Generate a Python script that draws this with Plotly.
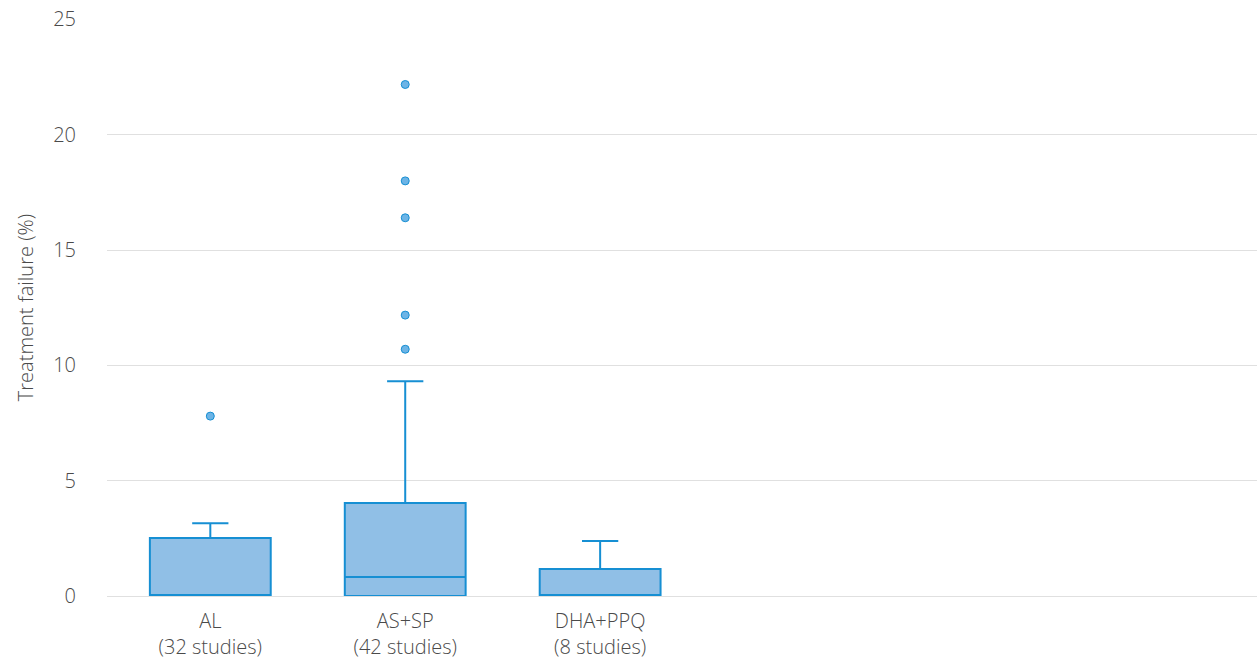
import plotly.graph_objects as go

# treatment regimens and number of studies
regimens = ["AL", "AS+SP", "DHA+PPQ"]
studies = [32, 42, 8]

# box statistics (treatment failure, %)
q1 = [0, 0, 0]
median = [0, 0.82, 0]
q3 = [2.51, 4.03, 1.17]
lower_fence = [0, 0, 0]
upper_fence = [3.16, 9.31, 2.38]

# outliers per regimen
outliers = {
    "AL": [7.8],
    "AS+SP": [22.18, 18.0, 16.4, 12.18, 10.7],
    "DHA+PPQ": [],
}

labels = [f"{r}<br>({n} studies)" for r, n in zip(regimens, studies)]

line_blue = "#168fd3"
fill_blue = "#90bfe6"
text_grey = "#4a4a4a"
font_family = "'Open Sans', Lato, sans-serif"
tick_font = dict(size=20, color=text_grey, weight=300)

fig = go.Figure()

fig.add_trace(go.Box(
    x=labels,
    q1=q1, median=median, q3=q3,
    lowerfence=lower_fence, upperfence=upper_fence,
    boxpoints=False,
    fillcolor=fill_blue,
    line=dict(color=line_blue, width=2),
    whiskerwidth=0.3,
    width=0.62,
    hoverinfo="skip",
    showlegend=False,
))

# outliers as points
out_x = []
out_y = []
for lab, reg in zip(labels, regimens):
    for v in outliers[reg]:
        out_x.append(lab)
        out_y.append(v)

fig.add_trace(go.Scatter(
    x=out_x, y=out_y, mode="markers",
    marker=dict(size=8, color="#6cb4e6", line=dict(color=line_blue, width=1)),
    hoverinfo="skip",
    showlegend=False,
    cliponaxis=False,
))

fig.update_layout(
    width=1257, height=664,
    margin=dict(l=107, r=0, t=19, b=68),
    plot_bgcolor="white",
    paper_bgcolor="white",
    font=dict(family=font_family, size=20, color=text_grey, weight=300),
)
fig.update_xaxes(
    type="category",
    categoryorder="array", categoryarray=labels,
    range=[-0.53, 5.37],
    showgrid=False, zeroline=False, showline=False,
    ticklabelstandoff=11,
    tickfont=tick_font,
)
fig.update_yaxes(
    range=[0, 25.02],
    tickvals=[0, 5, 10, 15, 20, 25],
    showgrid=True, gridcolor="#e0e0e0", gridwidth=1,
    zeroline=True, zerolinecolor="#e0e0e0", zerolinewidth=1,
    showline=False,
    ticklabelstandoff=30,
    tickfont=tick_font,
    title=dict(text="Treatment failure (%)", font=tick_font, standoff=14),
)

fig.write_html("out.html", config={"displayModeBar": False},
               post_script="document.body.style.margin='0';")
